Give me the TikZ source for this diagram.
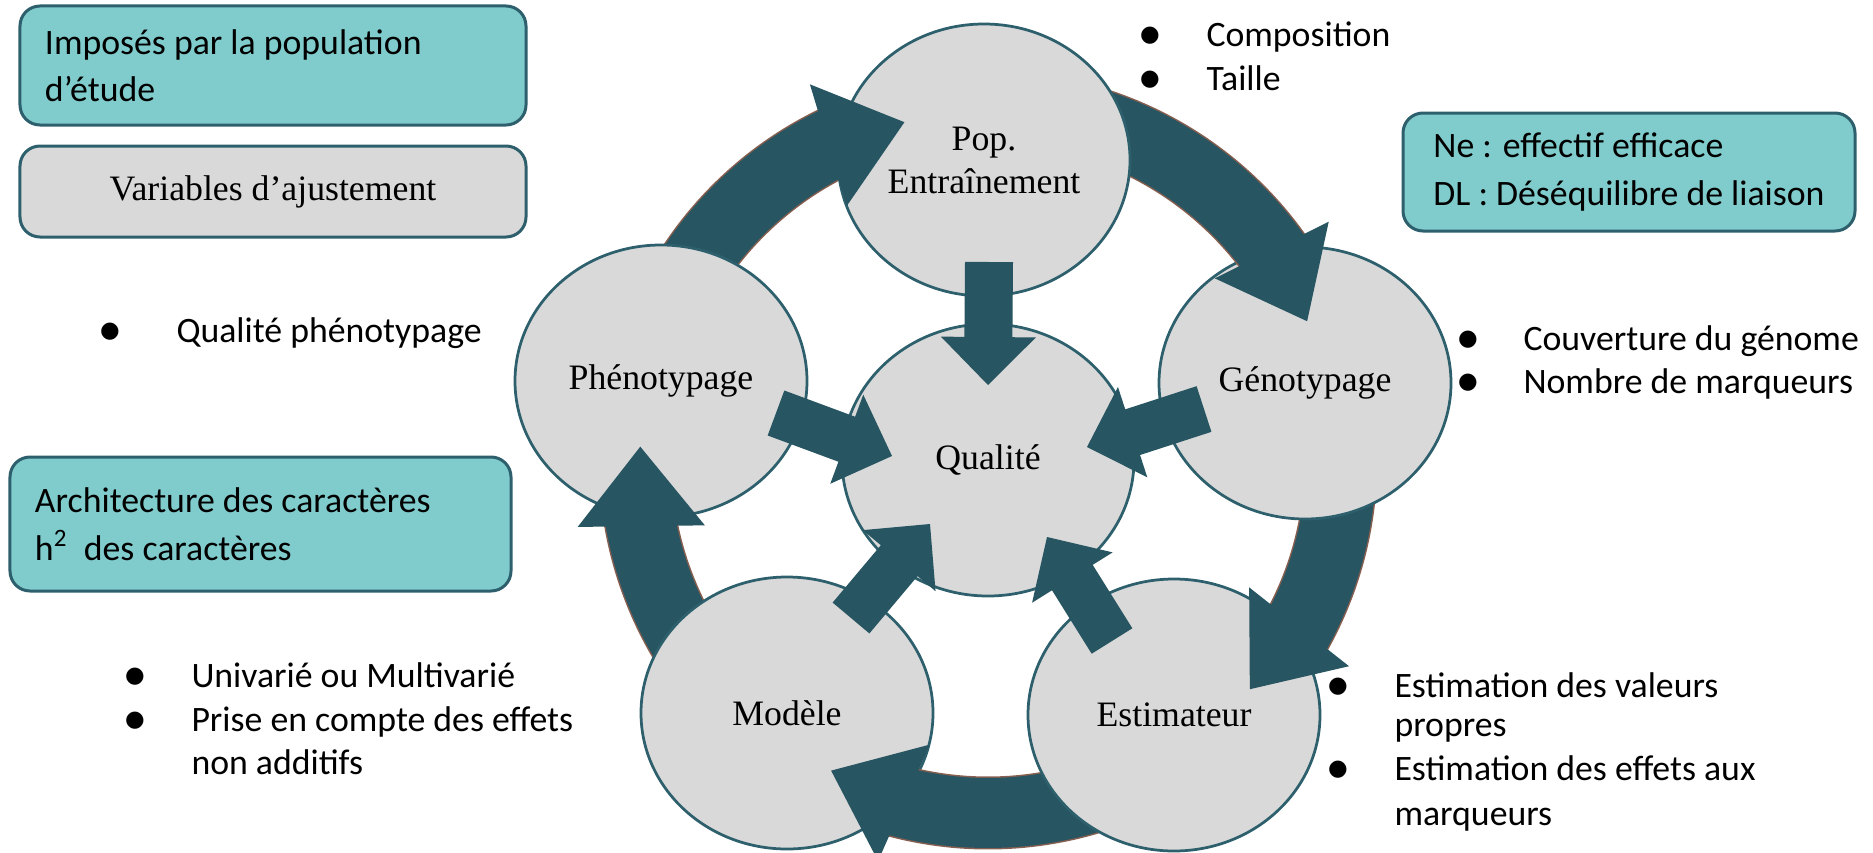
\documentclass[tikz,border=0pt]{standalone}
\usepackage{fontspec}
\setmainfont{Liberation Serif}
\newfontfamily\calibri{Carlito}
\newfontfamily\dotfont{DejaVu Sans}
\usetikzlibrary{shapes.geometric,calc}

\definecolor{cycleteal}{RGB}{39,85,97}
\definecolor{rimteal}{RGB}{45,96,108}
\definecolor{boxteal}{RGB}{128,203,204}
\definecolor{discgray}{RGB}{217,217,217}
\definecolor{rimbrown}{RGB}{135,95,80}

\tikzset{
  stage/.style={ellipse, draw=rimteal, line width=1.1pt, fill=discgray,
    minimum width=116.8pt, minimum height=108.8pt, inner sep=0pt,
    align=center, font=\fontsize{14.3}{17.2}\selectfont},
  infobox/.style={rectangle, rounded corners=8pt, draw=rimteal, line width=1.2pt,
    fill=boxteal, align=flush left, inner xsep=10pt, inner ysep=0pt,
    font=\calibri\fontsize{14.3}{19}\selectfont},
  plainbox/.style={infobox, fill=discgray, align=center,
    font=\fontsize{14.3}{19}\selectfont},
  ringedge/.style={draw=rimbrown, line width=29.2pt},
  ringband/.style={draw=cycleteal, line width=28pt},
  listitem/.style={anchor=base west, inner sep=0pt,
    font=\calibri\fontsize{14.3}{17.4}\selectfont},
  bulletdot/.style={inner sep=0pt, font=\dotfont\fontsize{9}{9}\selectfont}
}

% curved band of the cycle, from a start angle to the base of its head
\newcommand{\cycleband}[2]{%
  \begin{scope}[shift={(ring)}]
    \draw[ringedge] (#1:353) arc[start angle=#1, end angle={#2+1.5}, radius=353];
    \draw[ringband] (#1:353) arc[start angle=#1, end angle={#2+1.5}, radius=353];
  \end{scope}}
% triangular head at the end of a band
\newcommand{\cyclehead}[1]{%
  \begin{scope}[shift={(ring)}]
    \coordinate (hb) at (#1:353);
    \coordinate (ht) at ({#1+13}:348);
    \fill[cycleteal] ($(hb)!0.8!90:(ht)$) -- (ht) -- ($(hb)!0.8!-90:(ht)$) -- cycle;
  \end{scope}}

\begin{document}
\begin{tikzpicture}[x=0.4pt, y=-0.4pt]
\useasboundingbox (0,0) rectangle (1873,853);
\coordinate (ring) at (988,460);

% cycle: each band starts under its own disc, its head lies on the next one
\cycleband{194}{243.1}
\node[stage] (pheno) at (661,381) {Phénotypage};
\cycleband{128}{169.2}
\cyclehead{169.2}
\node[stage] (modele) at (787,713) {Modèle};
\cycleband{54}{103.8}
\cyclehead{103.8}
\node[stage] (estim) at (1174,715) {Estimateur};
\cycleband{-14}{28.2}
\cyclehead{28.2}
\node[stage] (geno) at (1305,383) {Génotypage};
\cycleband{-92}{-36.5}
\cyclehead{-36.5}
\node[stage] (pop) at (984,160) {Pop.\\Entraînement};
\cyclehead{243.1}

\node[stage] (qual) at (ring) {Qualité};

% block arrows into the centre
\coordinate (popS) at (989,262);    \coordinate (popT) at (988,385);
\coordinate (genoS) at (1204,409);  \coordinate (genoT) at (1087,447);
\coordinate (estimS) at (1112,641); \coordinate (estimT) at (1047,537);
\coordinate (modS) at (851,618);    \coordinate (modT) at (930,524);
\coordinate (phenoS) at (776,413);  \coordinate (phenoT) at (892,456);
\foreach \s/\t in {popS/popT, genoS/genoT, estimS/estimT, modS/modT, phenoS/phenoT} {
  \coordinate (h) at ($(\s)!0.61!(\t)$);
  \fill[cycleteal] ($(\s)!9.6pt!90:(\t)$) -- ($(h)!9.6pt!90:(\t)$) -- ($(h)!19pt!90:(\t)$)
    -- (\t) -- ($(h)!19pt!-90:(\t)$) -- ($(h)!9.6pt!-90:(\t)$) -- ($(\s)!9.6pt!-90:(\t)$) -- cycle;
}

% legend boxes
\node[infobox, text width=182.4pt, minimum height=47.6pt] (impose) at (273,65.5) {Imposés par la population\\d’étude};
\node[plainbox, minimum width=202.4pt, minimum height=36.4pt] (ajust) at (273,191.5) {Variables d’ajustement};
\node[infobox, minimum width=180.8pt, minimum height=47.2pt] (neinfo) at (1629,172) {Ne : effectif efficace\\DL : Déséquilibre de liaison};
\node[infobox, text width=180.4pt, minimum height=53.6pt] (archi) at (260.5,524) {Architecture des caractères\\h\textsuperscript{2}~~des caractères};

% bullet lists
\node[bulletdot] (b1) at (1150,36) {●};
\node[bulletdot] (b2) at (1150,80) {●};
\node[listitem] (compo) at (1206,46) {Composition};
\node[listitem] (taille) at (1206,90) {Taille};
\node[bulletdot] (b3) at (110,332) {●};
\node[listitem] (qphen) at (176,342) {Qualité phénotypage};
\node[bulletdot] (b4) at (1468,340) {●};
\node[bulletdot] (b5) at (1468,383) {●};
\node[listitem] (couv) at (1523,350) {Couverture du génome};
\node[listitem] (nbmarq) at (1523,393) {Nombre de marqueurs};
\node[bulletdot] (b6) at (135,677) {●};
\node[bulletdot] (b7) at (135,721) {●};
\node[listitem] (univ) at (191,687) {Univarié ou Multivarié};
\node[listitem] (prise) at (191,731) {Prise en compte des effets};
\node[listitem] (nonadd) at (191,774) {non additifs};
\node[bulletdot] (b8) at (1338,687) {●};
\node[bulletdot] (b9) at (1338,770) {●};
\node[listitem] (estval) at (1394,697) {Estimation des valeurs};
\node[listitem] (propres) at (1394,736) {propres};
\node[listitem] (esteff) at (1394,780) {Estimation des effets aux};
\node[listitem] (marq) at (1394,825) {marqueurs};
\end{tikzpicture}
\end{document}
